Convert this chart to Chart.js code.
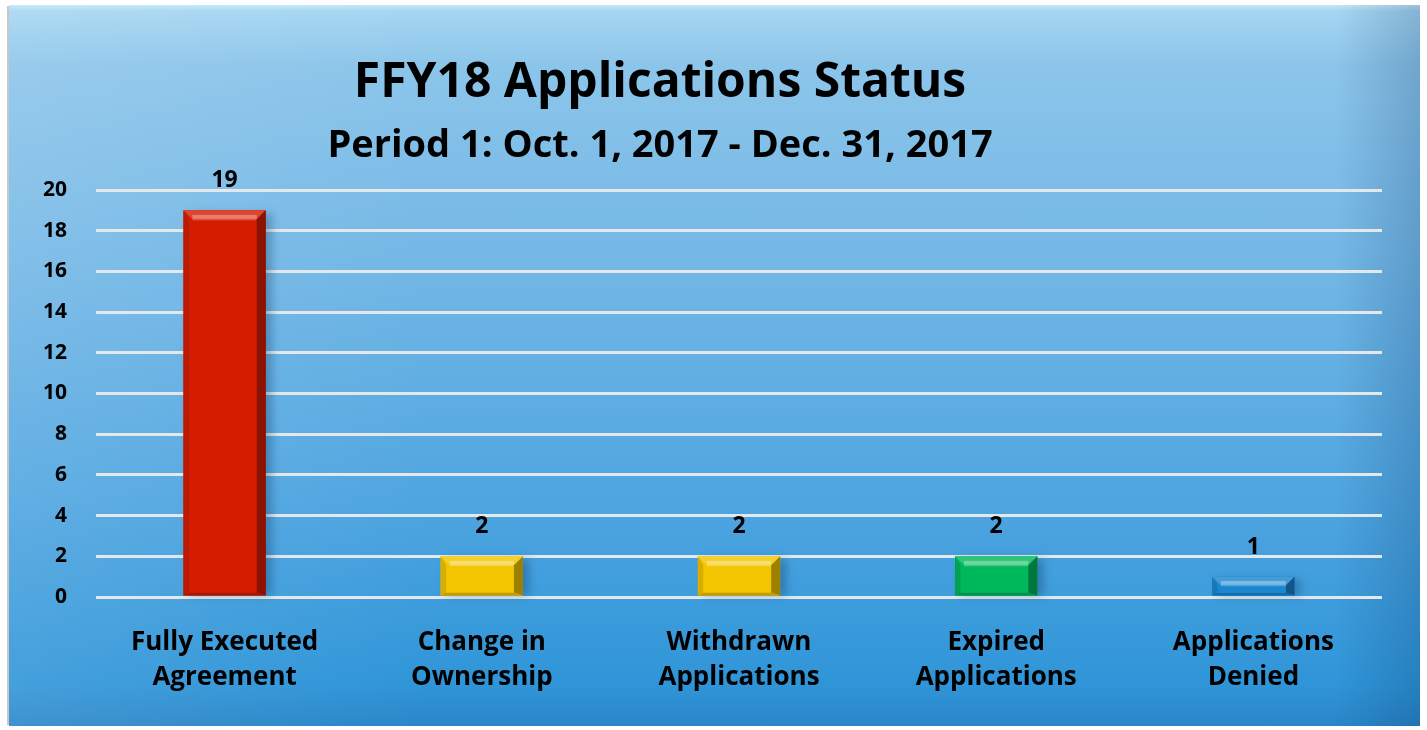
<!DOCTYPE html>
<html>
<head>
<meta charset="utf-8">
<script src="https://cdn.jsdelivr.net/npm/chart.js@4.4.1/dist/chart.umd.min.js"></script>
<style>
  html, body { margin: 0; padding: 0; background: #ffffff; }
  body { width: 1427px; height: 730px; position: relative; overflow: hidden; }
  #panel {
    position: absolute; left: 9px; top: 5px; width: 1411px; height: 721px;
    background:
      linear-gradient(to right, rgba(255,255,255,0.10) 0%, rgba(255,255,255,0) 30%, rgba(0,0,0,0) 94%, rgba(0,40,90,0.2) 100%),
      linear-gradient(to bottom, #c4e8f8 0px, #a6d6f1 6px, #8cc5ea 60px, #74b8e6 250px, #4ea5e0 500px, #2f95d8 680px, #2a86c8 721px);
    box-shadow: -3px 0 0 -1px #c8c8c8;
  }
  #panel canvas { position: absolute; left: 0; top: 0; }
</style>
</head>
<body>
<div id="panel"><canvas id="c" width="1411" height="721"></canvas></div>
<script>
const categories = [["Fully Executed", "Agreement"], ["Change in", "Ownership"], ["Withdrawn", "Applications"], ["Expired", "Applications"], ["Applications", "Denied"]];
const values = [19, 2, 2, 2, 1];
const barColors = ["#d41c00", "#f3c500", "#00b85c", "#1a86d0"];
const barColorIndex = [0, 1, 1, 2, 3];
const yTicks = [0, 2, 4, 6, 8, 10, 12, 14, 16, 18, 20];
const titleText = "FFY18 Applications Status";
const subtitleText = "Period 1: Oct. 1, 2017 - Dec. 31, 2017";

const FONT = "'Open Sans', Lato, sans-serif";

const colors = barColorIndex.map(i => barColors[i]);

function shade(hex, amt) {
  const n = parseInt(hex.slice(1), 16);
  let r = (n >> 16) & 255, g = (n >> 8) & 255, b = n & 255;
  if (amt >= 0) { r += (255 - r) * amt; g += (255 - g) * amt; b += (255 - b) * amt; }
  else { r *= (1 + amt); g *= (1 + amt); b *= (1 + amt); }
  return `rgb(${Math.round(r)},${Math.round(g)},${Math.round(b)})`;
}

const bevelPlugin = {
  id: 'bevel',
  beforeDatasetsDraw(chart) {
    const ctx = chart.ctx;
    const meta = chart.getDatasetMeta(0);
    ctx.save();
    meta.data.forEach(el => {
      const w = el.width, left = el.x - w / 2, top = el.y, h = el.base - el.y;
      ctx.fillStyle = 'rgba(0,30,70,0.28)';
      ctx.filter = 'blur(4px)';
      ctx.fillRect(left + 6, top + 3, w, h - 3);
    });
    ctx.restore();
  },
  afterDatasetsDraw(chart) {
    const ctx = chart.ctx;
    const meta = chart.getDatasetMeta(0);
    meta.data.forEach((el, i) => {
      const c = colors[i];
      const w = el.width, left = el.x - w / 2, right = left + w, top = el.y, bottom = el.base;
      const h = bottom - top;
      const bev = Math.min(9, h / 2.2);
      ctx.save();
      ctx.beginPath();
      ctx.moveTo(left, top); ctx.lineTo(right, top);
      ctx.lineTo(right - bev, top + bev); ctx.lineTo(left + bev, top + bev);
      ctx.closePath();
      ctx.fillStyle = shade(c, 0.18);
      ctx.fill();
      const g = ctx.createLinearGradient(0, top + bev * 0.4, 0, top + bev * 1.2);
      g.addColorStop(0, shade(c, 0.35));
      g.addColorStop(1, 'rgba(255,255,255,0)');
      ctx.fillStyle = g;
      ctx.fillRect(left + bev, top + bev * 0.5, w - 2 * bev, bev * 0.8);
      ctx.beginPath();
      ctx.moveTo(right, top); ctx.lineTo(right, bottom);
      ctx.lineTo(right - bev, bottom - bev * 0.3); ctx.lineTo(right - bev, top + bev);
      ctx.closePath();
      ctx.fillStyle = shade(c, -0.35);
      ctx.fill();
      ctx.beginPath();
      ctx.moveTo(left, top); ctx.lineTo(left, bottom);
      ctx.lineTo(left + bev * 0.6, bottom - bev * 0.3); ctx.lineTo(left + bev * 0.6, top + bev);
      ctx.closePath();
      ctx.fillStyle = shade(c, -0.12);
      ctx.fill();
      ctx.beginPath();
      ctx.moveTo(left, bottom); ctx.lineTo(right, bottom);
      ctx.lineTo(right - bev, bottom - bev * 0.3); ctx.lineTo(left + bev * 0.6, bottom - bev * 0.3);
      ctx.closePath();
      ctx.fillStyle = shade(c, -0.2);
      ctx.fill();
      ctx.restore();
    });
  }
};

const textPlugin = {
  id: 'texts',
  afterDraw(chart) {
    const ctx = chart.ctx;
    ctx.save();
    ctx.fillStyle = '#000';
    ctx.textAlign = 'center';
    ctx.textBaseline = 'alphabetic';
    ctx.font = `bold 23px ${FONT}`;
    const meta = chart.getDatasetMeta(0);
    meta.data.forEach((el, i) => {
      ctx.fillText(String(values[i]), el.x, el.y - 23);
    });
    const cx = 651;
    ctx.font = `bold 48px ${FONT}`;
    ctx.fillText(titleText, cx, 92);
    ctx.font = `bold 38px ${FONT}`;
    ctx.fillText(subtitleText, cx, 152);
    ctx.restore();
  }
};

new Chart(document.getElementById('c'), {
  type: 'bar',
  data: {
    labels: categories,
    datasets: [{
      data: values,
      backgroundColor: colors,
      borderWidth: 0,
      barPercentage: 0.64,
      categoryPercentage: 0.5
    }]
  },
  options: {
    responsive: false,
    animation: false,
    devicePixelRatio: 1,
    layout: { padding: { top: 185, right: 38, bottom: 0, left: 0 } },
    plugins: { legend: { display: false }, tooltip: { enabled: false }, title: { display: false } },
    scales: {
      x: {
        grid: { display: false, drawTicks: false },
        border: { display: false },
        ticks: { color: '#000', font: { family: FONT, weight: 'bold', size: 26, lineHeight: 1.35 }, padding: 28, maxRotation: 0, autoSkip: false },
        afterFit(scale) { scale.height = 129; }
      },
      y: {
        min: 0, max: 20,
        afterBuildTicks(scale) { scale.ticks = yTicks.map(v => ({ value: v })); },
        grid: { color: '#e4e8ea', lineWidth: 3, drawTicks: false },
        border: { display: false },
        ticks: { color: '#000', font: { family: FONT, weight: 'bold', size: 21 }, padding: 29 },
        afterFit(scale) { scale.width = 87; }
      }
    }
  },
  plugins: [bevelPlugin, textPlugin]
});
</script>
</body>
</html>
